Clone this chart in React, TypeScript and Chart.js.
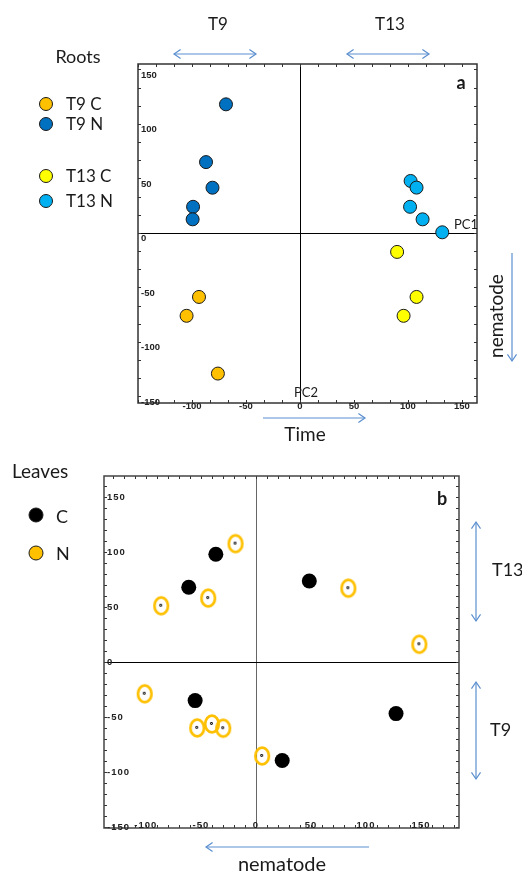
import React, { useEffect, useRef } from "react";
import { Chart, registerables } from "chart.js";

Chart.register(...registerables);

// ---------- Data: Roots (panel a) ----------
const rootsT9C_x = [-93.5, -105, -76];
const rootsT9C_y = [-58.7, -76, -129];
const rootsT9N_x = [-68.5, -87, -81, -99, -99.4];
const rootsT9N_y = [118, 65, 41.5, 24, 12.5];
const rootsT13C_x = [90, 108, 96];
const rootsT13C_y = [-17.4, -58.7, -76];
const rootsT13N_x = [102.5, 108, 102, 113.6, 131.8];
const rootsT13N_y = [47.7, 41.6, 24, 12.5, 0.6];
const rootsLabels = ["T9 C", "T9 N", "T13 C", "T13 N"];

// ---------- Data: Leaves (panel b) ----------
const leavesC_x = [-36.4, -61, 48.5, -55.2, 127.3, 23.9];
const leavesC_y = [97.9, 67.9, 73.6, -35.2, -47, -89.7];
const leavesN_x = [-18.5, -86, -43.3, 84, 148.5, -101, -53.3, -40, -29.7, 5.7];
const leavesN_y = [107.5, 51, 58, 67, 16, -29, -60, -56.4, -60.3, -85.5];
const leavesLabels = ["C", "N"];

// Tick values shown
const rootsXTicks = [-100, -50, 0, 50, 100, 150];
const rootsYTicks = [150, 100, 50, 0, -50, -100, -150];
const leavesXTicks = [-100, -50, 0, 50, 100, 150];
const leavesYTicks = [150, 100, 50, 0, -50, -100, -150];

const pts = (xs: number[], ys: number[]) => xs.map((x, i) => ({ x, y: ys[i] }));

const ARROW = "#5B8FCF";
const FONT = 'Lato, "Open Sans", sans-serif';
const TICK_FONT = 'bold 9.5px "Liberation Sans", Arial, sans-serif';
const COL = { t9c: "#FFC000", t9n: "#0070C0", t13c: "#FFFF00", t13n: "#00B0F0" };

function drawArrow(ctx: CanvasRenderingContext2D, x1: number, y1: number, x2: number, y2: number, h1: boolean, h2: boolean) {
  ctx.save();
  ctx.strokeStyle = ARROW;
  ctx.lineWidth = 1.2;
  ctx.beginPath();
  ctx.moveTo(x1, y1);
  ctx.lineTo(x2, y2);
  ctx.stroke();
  const ang = Math.atan2(y2 - y1, x2 - x1);
  const head = (x: number, y: number, a: number) => {
    const L = 8, w = 0.6;
    ctx.beginPath();
    ctx.moveTo(x - L * Math.cos(a - w), y - L * Math.sin(a - w));
    ctx.lineTo(x, y);
    ctx.lineTo(x - L * Math.cos(a + w), y - L * Math.sin(a + w));
    ctx.stroke();
  };
  if (h2) head(x2, y2, ang);
  if (h1) head(x1, y1, ang + Math.PI);
  ctx.restore();
}

function text(ctx: CanvasRenderingContext2D, s: string, x: number, y: number, font: string, align: CanvasTextAlign = "center", base: CanvasTextBaseline = "middle", color = "#1a1a1a") {
  ctx.save();
  ctx.font = font;
  ctx.fillStyle = color;
  ctx.textAlign = align;
  ctx.textBaseline = base;
  ctx.fillText(s, x, y);
  ctx.restore();
}

type FrameCfg = {
  frameColor: string;
  zeroV: string;
  zeroH: string;
  minorX: number;
  minorY: number;
  xTicks: number[];
  yTicks: number[];
  xLabelY: (bottom: number) => number;
  yLabelBase: CanvasTextBaseline;
  yLabelDy: number;
  spacing: string;
};

function drawFrame(chart: any, cfg: FrameCfg) {
  const ctx: CanvasRenderingContext2D = chart.ctx;
  const a = chart.chartArea;
  const xs = chart.scales.x;
  const ys = chart.scales.y;
  ctx.save();
  // zero lines
  ctx.lineWidth = 1;
  const x0 = Math.round(xs.getPixelForValue(0)) + 0.5;
  const y0 = Math.round(ys.getPixelForValue(0)) + 0.5;
  ctx.strokeStyle = cfg.zeroV;
  ctx.beginPath();
  ctx.moveTo(x0, a.top);
  ctx.lineTo(x0, a.bottom);
  ctx.stroke();
  ctx.strokeStyle = cfg.zeroH;
  ctx.beginPath();
  ctx.moveTo(a.left, y0);
  ctx.lineTo(a.right, y0);
  ctx.stroke();
  // minor ticks
  ctx.strokeStyle = "#333";
  ctx.lineWidth = 1;
  const L = 3;
  for (let v = Math.ceil(xs.min / cfg.minorX) * cfg.minorX; v <= xs.max; v += cfg.minorX) {
    const p = Math.round(xs.getPixelForValue(v)) + 0.5;
    ctx.beginPath();
    ctx.moveTo(p, a.top);
    ctx.lineTo(p, a.top + L);
    ctx.moveTo(p, a.bottom);
    ctx.lineTo(p, a.bottom - L);
    ctx.stroke();
  }
  for (let v = Math.ceil(ys.min / cfg.minorY) * cfg.minorY; v <= ys.max; v += cfg.minorY) {
    const p = Math.round(ys.getPixelForValue(v)) + 0.5;
    ctx.beginPath();
    ctx.moveTo(a.left, p);
    ctx.lineTo(a.left + L, p);
    ctx.moveTo(a.right, p);
    ctx.lineTo(a.right - L, p);
    ctx.stroke();
  }
  // frame
  ctx.strokeStyle = cfg.frameColor;
  ctx.lineWidth = 1.5;
  ctx.strokeRect(a.left, a.top, a.right - a.left, a.bottom - a.top);
  // labels
  ctx.font = TICK_FONT;
  (ctx as any).letterSpacing = cfg.spacing;
  ctx.fillStyle = "#222";
  const tickVals = (scale: any) => scale.ticks.map((t: any) => t.value);
  ctx.textAlign = "center";
  ctx.textBaseline = "middle";
  tickVals(xs)
    .filter((v: number) => cfg.xTicks.includes(v))
    .forEach((v: number) => ctx.fillText(String(v), xs.getPixelForValue(v), cfg.xLabelY(a.bottom)));
  ctx.textAlign = "left";
  ctx.textBaseline = cfg.yLabelBase;
  tickVals(ys)
    .filter((v: number) => cfg.yTicks.includes(v))
    .forEach((v: number) => ctx.fillText(String(v), a.left + 3, ys.getPixelForValue(v) + cfg.yLabelDy));
  ctx.restore();
}

function legendDot(ctx: CanvasRenderingContext2D, x: number, y: number, fill: string, r = 6.5) {
  ctx.save();
  ctx.beginPath();
  ctx.arc(x, y, r, 0, Math.PI * 2);
  ctx.fillStyle = fill;
  ctx.fill();
  ctx.lineWidth = 1;
  ctx.strokeStyle = "#1a1a1a";
  ctx.stroke();
  ctx.restore();
}

function makeEllipse() {
  const c = document.createElement("canvas");
  c.width = 22;
  c.height = 26;
  const g = c.getContext("2d")!;
  g.strokeStyle = "#FFC000";
  g.lineWidth = 2.7;
  g.beginPath();
  g.ellipse(11, 13, 6.8, 8.4, 0, 0, Math.PI * 2);
  g.stroke();
  g.fillStyle = "#000";
  g.beginPath();
  g.arc(10.5, 12.5, 1.4, 0, Math.PI * 2);
  g.fill();
  g.fillStyle = "#fff";
  g.beginPath();
  g.arc(10.5, 12.5, 0.5, 0, Math.PI * 2);
  g.fill();
  return c;
}

const TOP_H = 450;
const BOT_H = 422;

export default function App() {
  const refA = useRef<HTMLCanvasElement>(null);
  const refB = useRef<HTMLCanvasElement>(null);

  useEffect(() => {
    document.body.style.margin = "0";
    const common = (min: [number, number], max: [number, number]) => ({
      x: { type: "linear" as const, display: false, min: min[0], max: max[0], ticks: { stepSize: 50, includeBounds: false } },
      y: { type: "linear" as const, display: false, min: min[1], max: max[1], ticks: { stepSize: 50, includeBounds: false } },
    });

    const ptStyle = (c: string, r: number) => ({
      backgroundColor: c,
      borderColor: "#1a1a1a",
      borderWidth: 1,
      pointRadius: r,
      pointHoverRadius: r,
    });

    const chartA = new Chart(refA.current!, {
      type: "scatter",
      data: {
        datasets: [
          { label: rootsLabels[0], data: pts(rootsT9C_x, rootsT9C_y), ...ptStyle(COL.t9c, 6.5) },
          { label: rootsLabels[1], data: pts(rootsT9N_x, rootsT9N_y), ...ptStyle(COL.t9n, 6.5) },
          { label: rootsLabels[2], data: pts(rootsT13C_x, rootsT13C_y), ...ptStyle(COL.t13c, 6.5) },
          { label: rootsLabels[3], data: pts(rootsT13N_x, rootsT13N_y), ...ptStyle(COL.t13n, 6.5) },
        ],
      },
      options: {
        responsive: false,
        animation: false,
        devicePixelRatio: 1,
        layout: { padding: { left: 138, top: 64, right: 522 - 477, bottom: TOP_H - 403 } },
        scales: common([-150, -156], [164, 155]),
        plugins: { legend: { display: false }, tooltip: { enabled: false } },
      },
      plugins: [
        {
          id: "decoA",
          beforeDatasetsDraw(chart: any) {
            drawFrame(chart, {
              frameColor: "#333",
              zeroV: "#000",
              zeroH: "#000",
              minorX: 50 / 3,
              minorY: 50 / 3,
              xTicks: rootsXTicks,
              yTicks: rootsYTicks,
              xLabelY: (b) => b + 3,
              yLabelBase: "top",
              yLabelDy: 1,
              spacing: "0px",
            });
          },
          afterDraw(chart: any) {
            const ctx: CanvasRenderingContext2D = chart.ctx;
            const F = (s: number, w = "normal") => `${w} ${s}px ${FONT}`;
            text(ctx, "T9", 218, 25, F(17));
            text(ctx, "T13", 390, 25, F(17));
            drawArrow(ctx, 174, 54, 256, 54, true, true);
            drawArrow(ctx, 347, 54, 429, 54, true, true);
            text(ctx, "Roots", 78, 57, F(18));
            const legY = [104, 124, 176, 201];
            chart.data.datasets.forEach((ds: any, i: number) => {
              legendDot(ctx, 46, legY[i], ds.backgroundColor, 6.5);
              text(ctx, ds.label, 66, legY[i] + 1, F(17), "left");
            });
            text(ctx, "a", 461, 83, F(18, "bold"));
            text(ctx, "PC1", 454, 225, F(13), "left");
            text(ctx, "PC2", 306, 393, F(13));
            drawArrow(ctx, 263, 418, 365, 418, false, true);
            text(ctx, "Time", 305, 435, F(19));
            ctx.save();
            ctx.translate(497, 316);
            ctx.rotate(-Math.PI / 2);
            text(ctx, "nematode", 0, 0, F(19));
            ctx.restore();
            drawArrow(ctx, 512, 253, 512, 361, false, true);
          },
        },
      ],
    } as any);

    const ell = makeEllipse();
    const OFF = TOP_H;
    const chartB = new Chart(refB.current!, {
      type: "scatter",
      data: {
        datasets: [
          { label: leavesLabels[0], data: pts(leavesC_x, leavesC_y), backgroundColor: "#000", borderColor: "#000", borderWidth: 0, pointRadius: 7.5, pointHoverRadius: 7.5 },
          { label: leavesLabels[1], data: pts(leavesN_x, leavesN_y), pointStyle: ell, backgroundColor: "#FFC000", borderColor: "#FFC000", pointRadius: 8, pointHoverRadius: 8 },
        ],
      },
      options: {
        responsive: false,
        animation: false,
        devicePixelRatio: 1,
        layout: { padding: { left: 104, top: 476 - OFF, right: 522 - 459, bottom: BOT_H - (828 - OFF) } },
        scales: common([-138, -151], [184.5, 169]),
        plugins: { legend: { display: false }, tooltip: { enabled: false } },
      },
      plugins: [
        {
          id: "decoB",
          beforeDatasetsDraw(chart: any) {
            drawFrame(chart, {
              frameColor: "#444",
              zeroV: "#666",
              zeroH: "#000",
              minorX: 10,
              minorY: 10,
              xTicks: leavesXTicks,
              yTicks: leavesYTicks,
              xLabelY: (b) => b - 3,
              yLabelBase: "middle",
              yLabelDy: 0,
              spacing: "1px",
            });
          },
          afterDraw(chart: any) {
            const ctx: CanvasRenderingContext2D = chart.ctx;
            const F = (s: number, w = "normal") => `${w} ${s}px ${FONT}`;
            ctx.save();
            ctx.translate(0, -OFF);
            text(ctx, "Leaves", 12, 472, F(19), "left");
            legendDot(ctx, 36, 515, "#000", 7);
            text(ctx, "C", 56, 517, F(18), "left");
            legendDot(ctx, 36, 553, "#FFC000", 7);
            text(ctx, "N", 56, 554, F(18), "left");
            text(ctx, "b", 442, 499, F(18, "bold"));
            drawArrow(ctx, 476, 522, 476, 621, true, true);
            text(ctx, "T13", 492, 570, F(18), "left");
            drawArrow(ctx, 476, 682, 476, 779, true, true);
            text(ctx, "T9", 490, 730, F(18), "left");
            drawArrow(ctx, 369, 847, 206, 847, false, true);
            text(ctx, "nematode", 282, 871, F(20), "center", "alphabetic");
            ctx.restore();
          },
        },
      ],
    } as any);

    return () => {
      chartA.destroy();
      chartB.destroy();
    };
  }, []);

  return (
    <div style={{ position: "fixed", left: 0, top: 0, width: 522, height: 872, background: "#fff" }}>
      <canvas ref={refA} width={522} height={TOP_H} style={{ position: "absolute", left: 0, top: 0, width: 522, height: TOP_H }} />
      <canvas ref={refB} width={522} height={BOT_H} style={{ position: "absolute", left: 0, top: TOP_H, width: 522, height: BOT_H }} />
    </div>
  );
}
